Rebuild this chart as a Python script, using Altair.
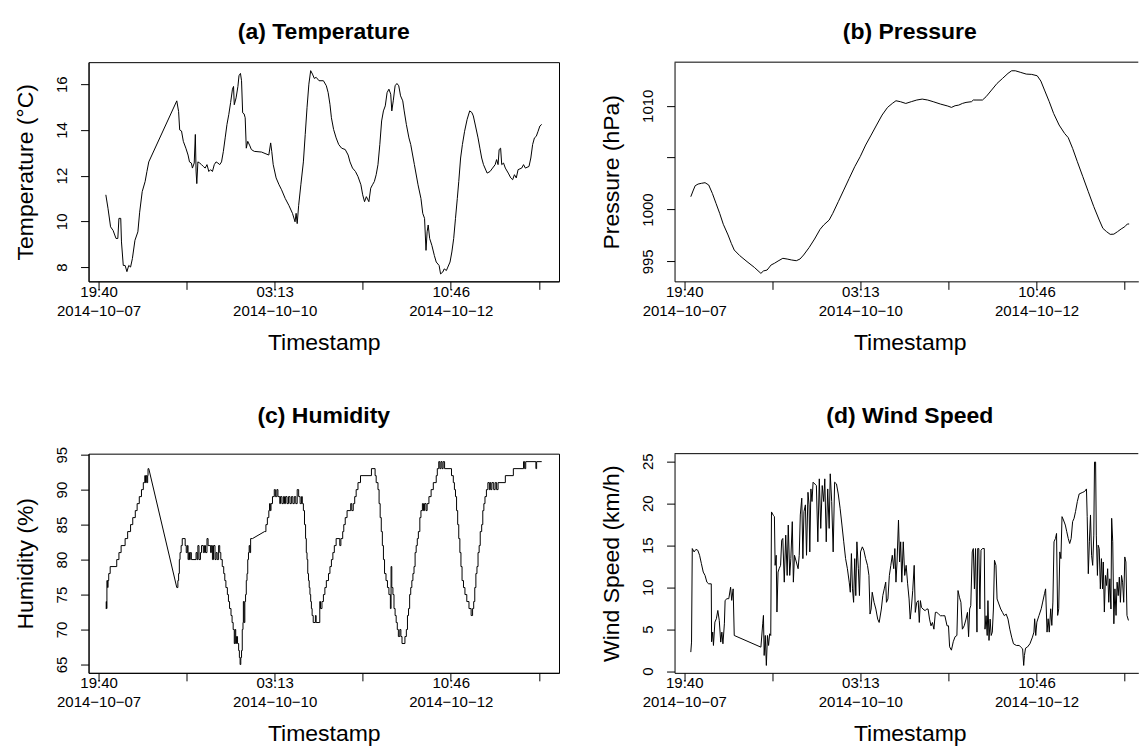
import altair as alt
import pandas as pd

# time axis: hours since 2014-10-07 19:40
x_tick_values = [0, 27.775, 55.55, 83.325, 111.1, 138.875]
x_tick_labels = [["19:40", "2014\u221210\u221207"], "", ["03:13", "2014\u221210\u221210"], "",
                 ["10:46", "2014\u221210\u221212"], ""]

temp_h = [2.30, 2.98, 3.79, 4.59, 5.51, 6.08, 6.43, 7.00, 7.23, 7.80, 8.38, 8.95, 9.53, 10.10, 10.67, 11.48,
          12.40, 12.97, 13.77, 14.69, 15.26, 15.84, 24.68, 25.25, 25.59, 26.17, 26.74, 27.54, 28.23, 28.69,
          29.27, 29.61, 30.18, 30.53, 30.76, 30.99, 31.33, 31.91, 32.48, 33.05, 33.63, 34.20, 34.78, 35.35,
          35.92, 36.50, 37.07, 37.64, 38.22, 38.79, 39.37, 39.94, 40.51, 41.09, 41.66, 42.24, 42.58, 42.81,
          43.38, 43.96, 44.30, 44.76, 45.10, 45.45, 45.91, 46.25, 46.60, 47.06, 47.74, 48.20, 49.12, 51.42,
          53.71, 54.29, 54.63, 55.09, 56.01, 56.93, 57.73, 58.88, 60.02, 61.17, 61.98, 62.32, 62.66, 63.12,
          63.81, 64.61, 65.19, 65.76, 66.34, 66.91, 67.48, 68.06, 68.63, 69.55, 70.93, 71.85, 72.42, 72.99,
          73.45, 74.14, 74.94, 75.75, 76.67, 77.81, 78.73, 79.31, 80.11, 81.03, 81.83, 82.75, 83.32, 83.90,
          84.47, 85.27, 85.85, 86.42, 86.99, 87.57, 88.14, 88.72, 89.29, 89.86, 90.44, 91.01, 91.59, 92.16,
          92.50, 92.96, 93.54, 94.11, 94.69, 95.26, 95.95, 96.41, 97.09, 97.90, 98.47, 99.62, 100.77, 101.69,
          102.26, 102.83, 103.29, 103.64, 103.98, 104.44, 105.13, 105.93, 106.51, 107.42, 107.88, 108.57,
          109.03, 109.72, 110.18, 110.87, 111.44, 112.02, 112.59, 113.16, 113.62, 114.20, 114.77, 115.46,
          116.26, 117.07, 117.75, 118.21, 118.90, 119.70, 120.28, 120.85, 121.42, 122.57, 123.49, 124.29,
          125.10, 125.56, 126.02, 126.36, 126.82, 127.17, 127.74, 128.31, 129.23, 130.03, 130.61, 131.18,
          131.76, 132.33, 133.48, 134.05, 134.63, 135.77, 136.35, 136.92, 137.49, 138.07, 138.64, 139.21, 139.79]
temp_v = [11.16, 10.57, 9.76, 9.6, 9.25, 9.25, 10.13, 10.13, 9.1, 8.07, 8.07, 7.8, 8.07, 8.0, 8.37, 9.17,
          9.54, 10.4, 11.3, 11.74, 12.18, 12.6, 15.27, 14.8, 14.0, 13.95, 13.5, 13.2, 12.9, 12.6,
          12.55, 12.33, 12.55, 13.8, 12.2, 11.65, 12.6, 12.55, 12.48, 12.4, 12.33, 12.48, 12.18, 12.26,
          12.18, 12.48, 12.6, 12.55, 12.48, 12.6, 13.06, 13.65, 14.24, 14.68, 15.2, 15.78, 15.9, 15.1,
          15.4, 15.9, 16.37, 16.47, 16.15, 14.75, 14.7, 14.53, 13.2, 13.5, 13.3, 13.14, 13.06, 13.03,
          12.9, 13.43, 13.06, 12.48, 11.9, 11.6, 11.38, 11.0, 10.7, 10.35, 9.98, 10.35, 9.9, 10.7,
          11.6, 12.6, 13.8, 14.97, 16.0, 16.59, 16.44, 16.25, 16.3, 16.15, 16.15, 15.93, 15.63, 15.12,
          14.53, 14.02, 13.65, 13.36, 13.2, 13.14, 12.9, 12.6, 12.33, 12.18, 11.96, 11.6, 11.16, 10.86,
          11.08, 10.86, 11.45, 11.6, 11.74, 12.04, 12.48, 13.36, 14.39, 14.83, 15.05, 15.63, 15.78, 15.56,
          14.83, 15.27, 15.93, 16.03, 15.93, 15.49, 15.27, 14.83, 14.24, 13.65, 13.36, 12.48, 11.6, 11.0,
          10.35, 10.13, 8.73, 9.54, 9.84, 9.25, 8.95, 8.5, 8.22, 8.07, 7.7, 7.78,
          7.92, 7.85, 8.0, 8.22, 8.66, 9.25, 10.13, 11.0, 11.74, 12.77, 13.36, 13.94,
          14.46, 14.83, 14.76, 14.61, 14.17, 13.65, 13.2, 12.77, 12.48, 12.11, 12.18, 12.33,
          12.48, 12.7, 12.48, 13.14, 13.2, 12.48, 12.55, 12.33, 12.11, 11.9, 11.82, 12.04,
          11.9, 12.26, 12.33, 12.48, 12.33, 12.4, 12.77, 13.36, 13.65, 13.72, 13.94, 14.17, 14.24]

pres_h = [2.07, 2.76, 3.45, 4.37, 5.41, 6.56, 7.71, 8.87, 10.02, 11.17, 12.32, 13.82, 14.85, 15.77, 17.50,
          19.80, 22.10, 24.18, 24.98, 26.13, 27.40, 28.44, 29.59, 31.09, 32.47, 33.85, 35.35, 36.50, 37.65,
          39.37, 41.10, 42.83, 43.98, 45.71, 46.86, 48.59, 50.31, 52.04, 53.77, 55.50, 57.22, 58.95, 60.67,
          62.40, 64.13, 65.62, 66.78, 68.16, 69.88, 71.61, 73.34, 75.06, 76.79, 78.52, 80.82, 83.12, 84.28,
          85.43, 86.58, 87.73, 88.88, 90.61, 91.18, 92.33, 94.06, 95.21, 96.94, 98.66, 100.39, 102.12,
          103.27, 104.42, 106.15, 107.88, 109.60, 111.33, 112.48, 113.63, 115.13, 116.51, 118.24, 119.97,
          121.12, 122.50, 124.00, 125.72, 127.45, 129.18, 130.90, 132.05, 133.21, 134.36, 135.51, 136.66,
          137.82, 138.96, 139.77, 140.34]
pres_v = [1001.23, 1001.78, 1002.29, 1002.45, 1002.52, 1002.58, 1002.36, 1001.55, 1000.59, 999.63, 998.57,
          997.54, 996.73, 996.09, 995.55, 994.97, 994.42, 993.84, 994.07, 994.16, 994.65, 994.81, 995.03,
          995.29, 995.22, 995.13, 995.06, 995.22, 995.61, 996.32, 997.15, 998.08, 998.50, 998.98, 999.63,
          1000.75, 1001.87, 1003.0, 1004.12, 1005.09, 1006.21, 1007.17, 1008.14, 1009.1, 1009.84, 1010.22,
          1010.48, 1010.39, 1010.22, 1010.39, 1010.55, 1010.64, 1010.55, 1010.39, 1010.16, 1009.97, 1009.84,
          1010.0, 1010.06, 1010.22, 1010.32, 1010.39, 1010.55, 1010.55, 1010.55, 1010.87, 1011.51, 1012.15,
          1012.63, 1013.12, 1013.37, 1013.37, 1013.21, 1013.05, 1013.02, 1012.89, 1012.38, 1011.51, 1010.39,
          1009.26, 1008.14, 1007.33, 1006.92, 1005.89, 1004.6, 1003.16, 1001.71, 1000.27, 998.98, 998.18,
          997.86, 997.60, 997.62, 997.86, 998.12, 998.34, 998.6, 998.6]

# humidity: times at which the (integer) reading changes, in three recorded stretches
hum_h_1 = [2.30, 2.41, 2.52, 2.64, 2.87, 2.98, 3.21, 3.67, 5.74, 6.43, 7.12, 8.38, 9.18, 10.10, 10.79, 11.59,
           12.17, 12.85, 13.54, 14.12, 14.58, 14.81, 15.03, 15.26, 15.49, 15.61, 15.84]
hum_v_1 = [73, 74, 73, 77, 76, 77, 78, 79, 80, 81, 82, 83, 84, 85, 86, 87,
           88, 89, 90, 91, 92, 91, 92, 91, 92, 93, 93]
hum_h_2 = [24.68, 25.02, 25.25, 25.48, 25.71, 26.05, 26.40, 27.32, 27.66, 28.00, 28.23, 28.46, 28.69, 28.92,
           29.27, 30.76, 31.10, 31.33, 31.68, 32.14, 32.48, 33.05, 33.40, 33.74, 34.20, 34.55, 35.35, 35.58,
           35.92, 36.27, 36.73, 37.07, 37.42, 37.87, 38.22, 38.56, 39.02, 39.48, 39.82, 40.17, 40.63, 40.97,
           41.32, 41.78, 42.12, 42.46, 42.81, 43.04, 43.27, 43.50, 43.84, 44.19, 44.42, 44.65, 44.87, 45.10,
           45.33, 45.56, 45.68, 45.91, 46.14, 46.37, 46.60, 46.83, 47.06, 47.29, 47.51, 47.74, 47.97, 48.55]
hum_v_2 = [76, 77, 78, 80, 81, 82, 83, 82, 81, 82, 80, 81, 80, 81,
           80, 81, 80, 82, 80, 81, 82, 81, 82, 81, 83, 82, 81, 82,
           80, 82, 80, 81, 80, 82, 81, 80, 79, 78, 77, 76, 75, 74,
           73, 72, 71, 70, 68, 70, 68, 69, 68, 67, 66, 65, 66, 67,
           70, 71, 74, 71, 74, 75, 77, 78, 80, 81, 82, 81, 83, 83]
hum_h_3 = [52.34, 52.79, 53.25, 53.71, 53.94, 54.17, 54.40, 54.86, 55.43, 55.78, 56.24, 56.58, 57.16, 57.39,
           57.84, 58.30, 58.65, 58.99, 59.45, 59.91, 60.37, 60.83, 61.29, 61.75, 62.21, 62.66, 63.12, 63.58,
           64.04, 64.27, 64.61, 64.96, 65.30, 65.53, 65.76, 65.99, 66.22, 66.45, 66.68, 66.91, 67.14, 67.37,
           67.71, 68.40, 68.63, 69.55, 69.78, 70.01, 70.47, 70.93, 71.39, 71.85, 72.53, 72.99, 73.45, 73.91,
           74.37, 74.94, 76.09, 76.44, 77.01, 77.35, 77.81, 78.39, 79.54, 79.88, 80.34, 80.80, 81.26, 81.83,
           82.63, 86.08, 87.23, 87.57, 88.14, 88.49, 88.83, 89.18, 89.52, 89.86, 90.21, 90.67, 91.13, 91.59,
           92.05, 92.27, 92.50, 92.85, 93.19, 93.54, 93.88, 94.23, 94.57, 95.03, 95.37, 95.72, 96.64, 97.09,
           97.44, 97.78, 98.13, 98.47, 98.82, 99.16, 99.51, 99.85, 100.19, 100.54, 100.88, 101.34, 101.69,
           102.15, 102.49, 102.83, 103.29, 103.64, 104.21, 104.90, 105.59, 106.51, 106.85, 107.31, 107.65,
           108.00, 108.34, 108.69, 109.15, 111.33, 111.90, 112.25, 112.59, 112.93, 113.28, 113.62, 113.97,
           114.31, 114.66, 115.11, 115.57, 116.15, 116.84, 117.52, 117.98, 118.33, 118.67, 119.02, 119.36,
           119.70, 120.05, 120.39, 120.85, 121.20, 121.54, 121.89, 122.34, 122.80, 123.26, 123.49, 123.72,
           124.07, 124.64, 125.10, 125.56, 126.02, 128.31, 130.84, 134.05, 134.40, 134.74, 137.95, 138.18, 139.79]
hum_v_3 = [84, 85, 86, 87, 88, 87, 88, 89, 90, 89, 90, 89, 88, 89,
           88, 89, 88, 89, 88, 89, 88, 89, 88, 89, 88, 90, 89, 88,
           89, 88, 87, 85, 83, 81, 80, 78, 77, 76, 75, 74, 73, 72,
           71, 72, 71, 71, 74, 73, 74, 75, 76, 77, 78, 79, 80, 81,
           82, 83, 82, 83, 84, 85, 86, 87, 88, 87, 88, 89, 90, 91,
           92, 93, 92, 91, 90, 88, 86, 84, 82, 80, 78, 77, 76, 75,
           73, 79, 76, 75, 73, 72, 71, 70, 69, 70, 69, 68, 69, 70,
           72, 73, 75, 76, 77, 78, 79, 81, 82, 83, 84, 86, 87,
           88, 87, 88, 87, 88, 89, 90, 91, 92, 93, 94, 93,
           94, 93, 94, 93, 92, 91, 90, 89, 87, 85, 83, 81,
           79, 77, 76, 75, 74, 73, 72, 73, 74, 76, 78, 79,
           81, 82, 84, 85, 87, 88, 89, 90, 91, 90, 91, 90,
           91, 90, 91, 90, 91, 92, 93, 94, 93, 94, 93, 94, 94]

wind_h = [2.07, 2.30, 2.53, 3.11, 3.68, 4.26, 4.84, 5.41, 5.99, 6.56, 7.14, 7.71, 8.52, 8.63, 8.98, 9.21, 9.67,
          10.13, 10.59, 11.05, 11.51, 11.86, 12.20, 12.66, 12.89, 13.47, 14.05, 14.62, 14.97, 15.43, 15.77,
          24.18, 24.75, 24.98, 25.21, 25.56, 25.90, 26.25, 26.60, 26.94, 27.29, 27.52, 28.09, 28.44, 28.67,
          29.01, 29.24, 29.59, 29.93, 30.39, 30.74, 31.09, 31.55, 32.01, 32.47, 32.81, 33.27, 33.62, 34.08,
          34.42, 34.77, 35.35, 35.92, 36.27, 36.61, 37.07, 37.42, 37.76, 38.22, 38.57, 39.03, 39.37, 39.60,
          39.95, 40.30, 40.64, 41.68, 42.14, 42.60, 43.06, 43.52, 43.98, 44.33, 44.79, 45.25, 45.71, 46.05,
          46.51, 46.97, 47.43, 48.01, 48.58, 49.16, 49.74, 50.31, 50.89, 51.46, 52.04, 52.38, 52.73, 53.07,
          53.42, 53.77, 54.11, 54.46, 54.92, 55.26, 55.61, 56.18, 56.64, 57.22, 57.80, 58.26, 58.60, 58.95,
          59.29, 59.87, 60.44, 61.02, 61.48, 62.17, 62.63, 63.09, 63.55, 63.78, 64.24, 64.70, 65.16, 65.62,
          66.08, 66.43, 66.78, 67.12, 67.58, 67.93, 68.27, 68.62, 69.08, 69.54, 70.00, 70.46, 70.92, 71.27,
          71.61, 72.07, 72.53, 72.88, 73.34, 73.80, 74.14, 74.49, 74.83, 75.30, 75.99, 76.45, 76.91, 77.37,
          77.83, 78.29, 78.75, 79.21, 79.67, 80.25, 80.82, 81.51, 82.20, 82.89, 83.35, 83.70, 84.27, 84.85,
          85.43, 86.00, 86.35, 86.81, 87.27, 87.73, 88.31, 88.88, 89.34, 89.69, 90.03, 90.38, 90.84, 91.18,
          91.53, 91.88, 92.33, 92.56, 92.91, 93.26, 93.60, 94.06, 94.64, 94.87, 95.21, 95.56, 95.79, 96.13,
          96.48, 96.82, 97.17, 97.52, 97.86, 98.32, 98.67, 99.24, 99.82, 100.39, 100.97, 101.54, 102.12,
          102.70, 103.27, 103.85, 104.77, 105.69, 106.15, 106.73, 107.07, 107.30, 107.65, 108.22, 109.03,
          109.83, 110.30, 110.53, 110.87, 111.22, 111.91, 112.60, 113.06, 113.63, 113.98, 114.44, 114.78,
          115.13, 115.59, 115.94, 116.28, 116.63, 117.09, 117.43, 117.78, 118.12, 118.47, 118.81, 119.16,
          119.62, 120.20, 120.66, 121.12, 121.58, 122.04, 122.50, 122.96, 123.42, 123.99, 124.57, 125.72,
          126.30, 126.87, 127.10, 127.45, 127.79, 128.14, 128.48, 128.83, 129.18, 129.41, 129.75, 129.98,
          130.33, 130.56, 130.90, 131.25, 131.59, 131.94, 132.17, 132.51, 132.86, 133.21, 133.55, 133.90,
          134.24, 134.59, 134.82, 135.16, 135.51, 135.85, 136.20, 136.54, 136.89, 137.24, 137.58, 137.93,
          138.27, 138.62, 138.96, 139.31, 139.65, 140.11]
wind_v = [2.27, 3.46, 14.6, 14.2, 14.5, 14.4, 13.8, 12.8, 11.8, 11.4, 10.6, 10.4, 10.4, 3.5, 4.65, 3.06, 5.84,
          6.24, 7.23, 6.04, 3.46, 4.65, 3.26, 5.64, 8.43, 8.63, 8.63, 10.0, 8.43, 9.8, 4.25,
          2.86, 5.64, 6.64, 1.87, 4.25, 0.68, 4.25, 3.06, 4.45, 4.25, 18.96, 18.56, 18.4, 12.6,
          13.8, 7.04, 11.8, 12.2, 12.6, 15.6, 15.8, 10.6, 16.2, 11.4, 17.4, 11.4, 13.4, 17.8,
          10.6, 13.8, 13.0, 12.2, 13.8, 18.6, 20.6, 13.4, 19.0, 19.8, 13.8, 21.3, 19.8, 14.2,
          21.7, 20.2, 22.5, 22.1, 15.4, 22.9, 17.0, 22.1, 20.2, 22.9, 15.4, 21.7, 17.0, 23.5,
          20.2, 14.2, 22.5, 22.3, 21.1, 19.4, 17.4, 15.4, 13.4, 12.2, 10.6, 9.4, 14.0, 9.8,
          8.2, 13.4, 9.0, 15.4, 12.2, 9.0, 14.2, 14.8, 14.4, 13.4, 12.6, 11.4, 6.8, 7.4,
          9.4, 8.2, 7.4, 6.2, 5.8, 7.4, 9.0, 9.8, 10.6, 8.2, 8.6, 11.4, 12.6, 13.8,
          12.2, 14.6, 10.6, 13.0, 18.0, 13.0, 15.4, 10.6, 15.4, 11.4, 12.6, 10.4, 8.6, 6.2,
          7.4, 9.6, 12.6, 7.0, 8.2, 8.4, 5.8, 8.4, 7.6, 7.4, 7.2, 7.4, 7.4, 6.2,
          5.4, 5.8, 5.0, 7.0, 7.0, 6.8, 6.6, 6.6, 6.6, 5.4, 5.4, 2.9, 2.5, 3.5,
          4.1, 4.25, 9.6, 8.8, 8.2, 5.0, 5.4, 6.2, 7.0, 4.1, 7.4, 7.8, 14.2, 14.6,
          9.8, 14.6, 4.65, 14.6, 14.6, 7.4, 14.4, 14.6, 14.6, 5.0, 6.6, 4.25, 8.4, 3.66,
          6.2, 4.25, 4.65, 7.4, 13.2, 12.6, 8.6, 8.0, 7.4, 7.0, 6.6, 6.8, 6.2,
          5.0, 4.05, 3.26, 3.06, 3.06, 2.86, 2.66, 0.68, 1.87, 2.74, 2.86, 3.26,
          4.05, 4.65, 6.24, 4.25, 5.84, 6.64, 7.43, 8.23, 9.22, 9.8, 4.65, 6.24,
          4.65, 7.43, 5.45, 8.23, 15.4, 15.8, 16.4, 6.64, 7.43, 14.2, 13.4, 18.4,
          18.0, 17.4, 16.6, 15.8, 15.2, 15.8, 17.8, 18.2, 19.0, 20.2, 21.1, 21.3,
          21.4, 21.7, 18.4, 11.6, 15.4, 18.6, 13.8, 12.6, 16.2, 24.9, 24.9, 16.2,
          11.4, 15.0, 14.6, 9.8, 13.4, 9.8, 13.0, 7.04, 11.4, 10.2, 12.2, 8.2,
          11.0, 7.4, 18.2, 15.4, 5.64, 9.8, 6.64, 10.6, 9.0, 11.2, 8.2, 11.4,
          10.6, 8.2, 13.6, 13.0, 6.64, 6.04]

y_ticks_temp = [8, 10, 12, 14, 16]
y_labels_temp = ["8", "10", "12", "14", "16"]
y_ticks_pres = [995, 1000, 1005, 1010]
y_labels_pres = ["995", "1000", "", "1010"]
y_ticks_hum = [65, 70, 75, 80, 85, 90, 95]
y_labels_hum = ["65", "70", "75", "80", "85", "90", "95"]
y_ticks_wind = [0, 5, 10, 15, 20, 25]
y_labels_wind = ["0", "5", "10", "15", "20", "25"]

FONT = "Liberation Sans"
W_FULL = 470.7
W_CLIP = 464.0
H = 219.3


def series(h, v):
    return pd.DataFrame({"h": h, "v": v, "i": range(len(h))})


def steps(parts):
    rows = []
    for hs, vs in parts:
        for k, (t, val) in enumerate(zip(hs, vs)):
            if k > 0 and vs[k - 1] != val:
                rows.append((t, vs[k - 1]))
            rows.append((t, val))
    return pd.DataFrame({"h": [r[0] for r in rows], "v": [r[1] for r in rows], "i": range(len(rows))})


def lab_expr(values, labels):
    expr = "''"
    for val, lab in reversed(list(zip(values, labels))):
        if isinstance(lab, list):
            txt = "[" + ", ".join("'" + s + "'" for s in lab) + "]"
        else:
            txt = "'" + lab + "'"
        expr = f"abs(datum.value - {val}) < 0.001 ? {txt} : {expr}"
    return expr


def panel(df, title, ytitle, ydomain, yticks, ylabels, xdomain, width, clipped, toff):
    x_axis = alt.Axis(values=x_tick_values, labelExpr=lab_expr(x_tick_values, x_tick_labels),
                      title="Timestamp", titleX=W_FULL / 2, titleY=68, titleAlign="center",
                      titleBaseline="alphabetic", tickSize=8, labelPadding=7, labelBaseline="alphabetic",
                      labelAlign="center", labelLineHeight=19, labelOverlap=False, labelFlush=False,
                      grid=False)
    y_axis = alt.Axis(values=yticks, labelExpr=lab_expr(yticks, ylabels), title=ytitle,
                      titleAngle=270, titleX=-56.3, titleY=H / 2, titleAlign="center",
                      titleBaseline="alphabetic", labelAngle=270, labelAlign="center",
                      labelBaseline="alphabetic", labelPadding=13.6, tickSize=8,
                      labelOverlap=False, labelFlush=False, grid=False)
    line = alt.Chart(df).mark_line(color="black", strokeWidth=1, clip=True).encode(
        x=alt.X("h:Q", scale=alt.Scale(domain=xdomain, nice=False, zero=False), axis=x_axis),
        y=alt.Y("v:Q", scale=alt.Scale(domain=ydomain, nice=False, zero=False), axis=y_axis),
        order="i:Q",
    )
    ttl = alt.TitleParams(text=title, font=FONT, fontSize=23, fontWeight="bold", color="black",
                          anchor="middle", frame="group", offset=toff, baseline="alphabetic",
                          dx=(W_FULL - width) / 2)
    if clipped:
        top = alt.Chart(pd.DataFrame({"k": [0]})).mark_rule(color="black", strokeWidth=1).encode(
            x=alt.value(0), x2=alt.value(width), y=alt.value(0))
        return alt.layer(line, top, title=ttl, view=alt.ViewBackground(stroke="transparent")).properties(
            width=width, height=H)
    return line.properties(width=width, height=H, title=ttl)


a = panel(series(temp_h, temp_v), "(a) Temperature", "Temperature (\u00b0C)", [7.375, 16.962],
          y_ticks_temp, y_labels_temp, [-3.153, -3.153 + W_FULL / 3.172], W_FULL, False, 0)
b = panel(series(pres_h, pres_v), "(b) Pressure", "Pressure (hPa)", [993.07, 1014.2],
          y_ticks_pres, y_labels_pres, [-3.06, -3.06 + W_CLIP / 3.172], W_CLIP, True, 0)
c = panel(steps([(hum_h_1, hum_v_1), (hum_h_2, hum_v_2), (hum_h_3, hum_v_3)]), "(c) Humidity",
          "Humidity (%)", [63.81, 95.14], y_ticks_hum, y_labels_hum,
          [-3.153, -3.153 + W_FULL / 3.172], W_FULL, False, 0)
d = panel(series(wind_h, wind_v), "(d) Wind Speed", "Wind Speed (km/h)", [-0.2, 25.9],
          y_ticks_wind, y_labels_wind, [-3.06, -3.06 + W_CLIP / 3.172], W_CLIP, True, 7)

chart = alt.concat(a, b, c, d, columns=2, spacing={"row": 171.7, "column": 115.3}, bounds="flush").properties(
    padding={"left": 13.6, "top": 20, "right": 0, "bottom": 0}, background="white"
).configure_view(stroke="black", strokeWidth=1).configure_axis(
    labelFont=FONT, labelFontSize=15, labelColor="black", titleFont=FONT, titleFontSize=23,
    titleFontWeight="normal", titleColor="black", tickColor="black", tickWidth=1,
    domainColor="black", domainWidth=1)

chart.save("out.html", embed_options={"renderer": "svg", "actions": False})
